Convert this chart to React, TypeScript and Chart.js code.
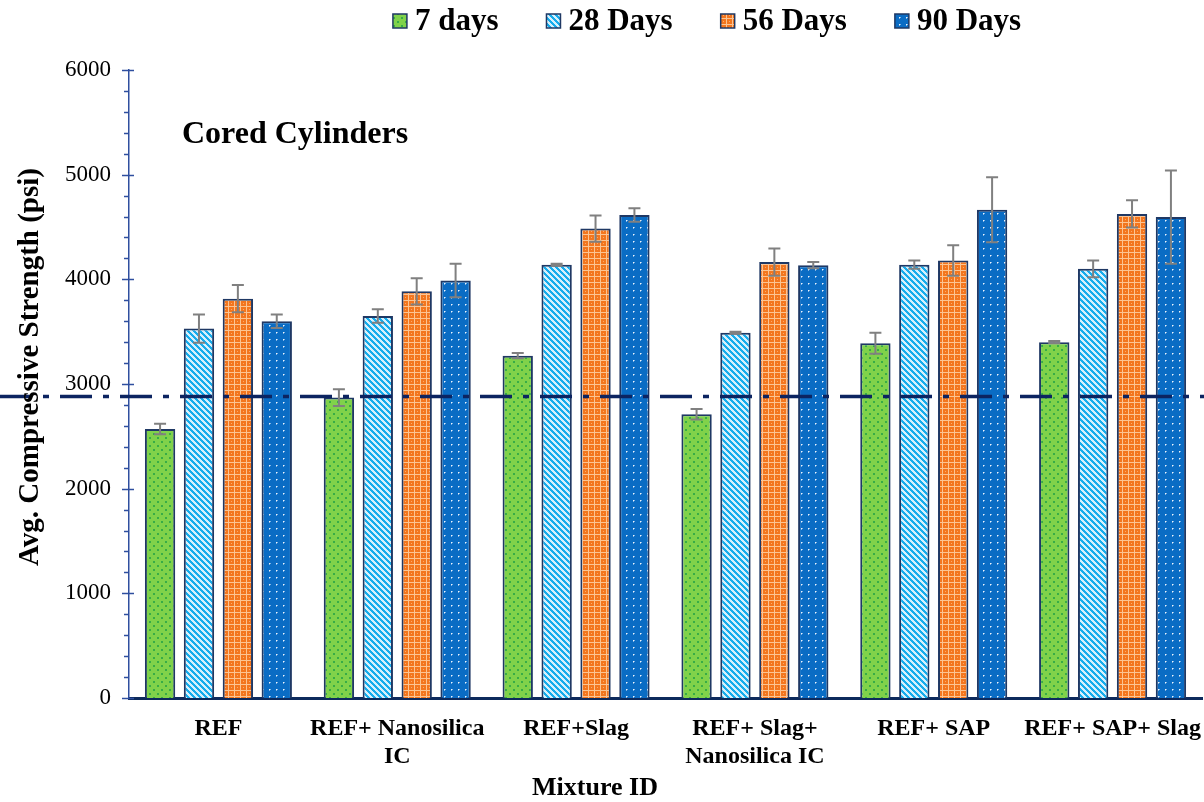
import React, { useEffect, useRef } from 'react';
import { Chart, registerables } from 'chart.js';
Chart.register(...registerables);

const categories: string[][] = [
  ['REF'],
  ['REF+ Nanosilica', 'IC'],
  ['REF+Slag'],
  ['REF+ Slag+', 'Nanosilica IC'],
  ['REF+ SAP'],
  ['REF+ SAP+ Slag'],
];
const seriesNames = ['7 days', '28 Days', '56 Days', '90 Days'];
const days7 = [2570, 2870, 3270, 2710, 3390, 3400];
const days7Err = [50, 80, 25, 50, 100, 10];
const days28 = [3530, 3650, 4140, 3490, 4140, 4100];
const days28Err = [135, 65, 10, 10, 40, 80];
const days56 = [3815, 3885, 4485, 4165, 4180, 4625];
const days56Err = [130, 125, 125, 130, 145, 130];
const days90 = [3600, 3990, 4615, 4135, 4665, 4595];
const days90Err = [65, 160, 65, 30, 310, 445];
const referenceLevel = 2880;
const yMin = 0;
const yMax = 6000;
const yStep = 1000;
const yMinorStep = 200;
const chartTitle = 'Cored Cylinders';
const xTitle = 'Mixture ID';
const yTitle = 'Avg. Compressive Strength (psi)';

const FONT = "'Liberation Serif', 'Times New Roman', serif";
const BORDER = '#1f3864';

type RGB = [number, number, number];
function makePattern(size: number, colorAt: (x: number, y: number) => RGB): CanvasPattern {
  const c = document.createElement('canvas');
  c.width = size;
  c.height = size;
  const ctx = c.getContext('2d')!;
  const img = ctx.createImageData(size, size);
  for (let y = 0; y < size; y++) {
    for (let x = 0; x < size; x++) {
      const [r, g, b] = colorAt(x, y);
      const i = (y * size + x) * 4;
      img.data[i] = r;
      img.data[i + 1] = g;
      img.data[i + 2] = b;
      img.data[i + 3] = 255;
    }
  }
  ctx.putImageData(img, 0, 0);
  return ctx.createPattern(c, 'repeat')!;
}

function buildPatterns(): CanvasPattern[] {
  const green = makePattern(8, (x, y) => {
    const d1 = (x === 1 || x === 2) && (y === 1 || y === 2);
    const d2 = (x === 5 || x === 6) && (y === 5 || y === 6);
    return d1 || d2 ? [56, 172, 70] : [128, 210, 74];
  });
  const lightBlue = makePattern(6, (x, y) => {
    const v = (((x - y) % 6) + 6) % 6;
    return v < 3 ? [22, 172, 236] : [214, 240, 252];
  });
  const orange = makePattern(6, (x, y) => {
    if (x === 0 || y === 0) return [252, 196, 146];
    if (x === 3 && y === 3) return [250, 170, 110];
    return [243, 118, 30];
  });
  const blue = makePattern(7, (x, y) => {
    if (x === 3 && y === 3) return [236, 244, 252];
    if ((x === 4 && y === 3) || (x === 3 && y === 4)) return [130, 180, 228];
    return [10, 108, 196];
  });
  return [green, lightBlue, orange, blue];
}

export default function App() {
  const ref = useRef<HTMLCanvasElement | null>(null);
  useEffect(() => {
    document.body.style.margin = '0';
    document.body.style.overflow = 'hidden';
    const canvas = ref.current!;
    const patterns = buildPatterns();
    const values = [days7, days28, days56, days90];
    const errors = [days7Err, days28Err, days56Err, days90Err];

    const overlay = {
      id: 'overlay',
      afterDatasetsDraw(chart: any) {
        const ctx = chart.ctx;
        const ys = chart.scales.y;
        ctx.save();
        // error bars
        ctx.strokeStyle = '#808080';
        ctx.lineWidth = 2;
        chart.data.datasets.forEach((ds: any, di: number) => {
          const meta = chart.getDatasetMeta(di);
          meta.data.forEach((el: any, i: number) => {
            const v = values[di][i];
            const e = errors[di][i];
            const x = el.x;
            const yt = ys.getPixelForValue(v + e);
            const yb = ys.getPixelForValue(v - e);
            ctx.beginPath();
            ctx.moveTo(x, yt);
            ctx.lineTo(x, yb);
            ctx.moveTo(x - 6, yt);
            ctx.lineTo(x + 6, yt);
            ctx.moveTo(x - 6, yb);
            ctx.lineTo(x + 6, yb);
            ctx.stroke();
          });
        });
        // reference line
        const yr = ys.getPixelForValue(referenceLevel);
        ctx.strokeStyle = '#0c2461';
        ctx.lineWidth = 3.5;
        ctx.setLineDash([32, 11, 6, 11]);
        ctx.beginPath();
        ctx.moveTo(0, yr);
        ctx.lineTo(chart.width, yr);
        ctx.stroke();
        ctx.setLineDash([]);
        ctx.restore();
      },
      afterDraw(chart: any) {
        const ctx = chart.ctx;
        const ys = chart.scales.y;
        const area = chart.chartArea;
        ctx.save();
        // y ticks (major + minor)
        ctx.strokeStyle = '#2f4f9f';
        ctx.lineWidth = 1.5;
        const ax = area.left;
        for (let v = yMin; v <= yMax; v += yMinorStep) {
          const y = Math.round(ys.getPixelForValue(v)) + 0.5;
          const major = v % yStep === 0;
          ctx.beginPath();
          ctx.moveTo(ax - (major ? 7 : 5), y);
          ctx.lineTo(ax + (major ? 5 : 0), y);
          ctx.stroke();
        }
        ctx.fillStyle = '#000';
        ctx.textBaseline = 'middle';
        // chart title
        ctx.font = `bold 32px ${FONT}`;
        ctx.textAlign = 'left';
        ctx.fillText(chartTitle, area.left + 53, area.top + 65);
        // x axis title
        ctx.font = `bold 26px ${FONT}`;
        ctx.textAlign = 'center';
        ctx.fillText(xTitle, 595, 788);
        // y axis title
        ctx.save();
        ctx.translate(31, 367);
        ctx.rotate(-Math.PI / 2);
        ctx.font = `bold 29px ${FONT}`;
        ctx.fillText(yTitle, 0, 0);
        ctx.restore();
        // legend
        ctx.textAlign = 'left';
        ctx.font = `bold 31px ${FONT}`;
        const box = 14;
        const boxGap = 8;
        const itemGap = 48;
        const widths = seriesNames.map((n) => ctx.measureText(n).width);
        const total = widths.reduce((a, b) => a + b, 0) + seriesNames.length * (box + boxGap) + itemGap * (seriesNames.length - 1);
        let x = 707 - total / 2;
        const cy = 21;
        seriesNames.forEach((n, i) => {
          ctx.fillStyle = patterns[i];
          ctx.fillRect(x, cy - box / 2, box, box);
          ctx.strokeStyle = BORDER;
          ctx.lineWidth = 1.5;
          ctx.strokeRect(x, cy - box / 2, box, box);
          ctx.fillStyle = '#000';
          ctx.fillText(n, x + box + boxGap, cy + 1);
          x += box + boxGap + widths[i] + itemGap;
        });
        ctx.restore();
      },
    };

    const chart = new Chart(canvas, {
      type: 'bar',
      data: {
        labels: categories,
        datasets: seriesNames.map((name, i) => ({
          label: name,
          data: values[i],
          backgroundColor: patterns[i],
          borderColor: BORDER,
          borderWidth: 2,
          categoryPercentage: 0.87,
          barPercentage: 0.78,
        })),
      },
      options: {
        responsive: false,
        animation: false,
        layout: { padding: { top: 70, right: 2, left: 0, bottom: 0 } },
        plugins: {
          legend: { display: false },
          tooltip: { enabled: false },
        },
        scales: {
          x: {
            grid: { display: false, drawTicks: false },
            border: { display: true, color: '#0d2a5c', width: 3 },
            ticks: {
              color: '#000',
              font: { family: FONT, size: 24, weight: 'bold', lineHeight: 1.2 },
              padding: 16,
              maxRotation: 0,
              autoSkip: false,
            },
            title: { display: false },
            afterFit: (s: any) => {
              s.height = 104;
              s.paddingLeft = 0;
              s.paddingRight = 0;
            },
          },
          y: {
            min: yMin,
            max: yMax,
            ticks: {
              stepSize: yStep,
              color: '#000',
              font: { family: FONT, size: 23 },
              padding: 18,
              callback: (v: any) => String(v),
            },
            grid: { display: false, drawTicks: false },
            border: { display: true, color: '#2f4f9f', width: 1.5 },
            title: { display: false },
            afterFit: (s: any) => {
              s.width = 129;
            },
          },
        },
      },
      plugins: [overlay],
    } as any);
    return () => chart.destroy();
  }, []);

  return (
    <canvas
      ref={ref}
      width={1204}
      height={802}
      style={{ position: 'absolute', left: 0, top: 0 }}
    />
  );
}
